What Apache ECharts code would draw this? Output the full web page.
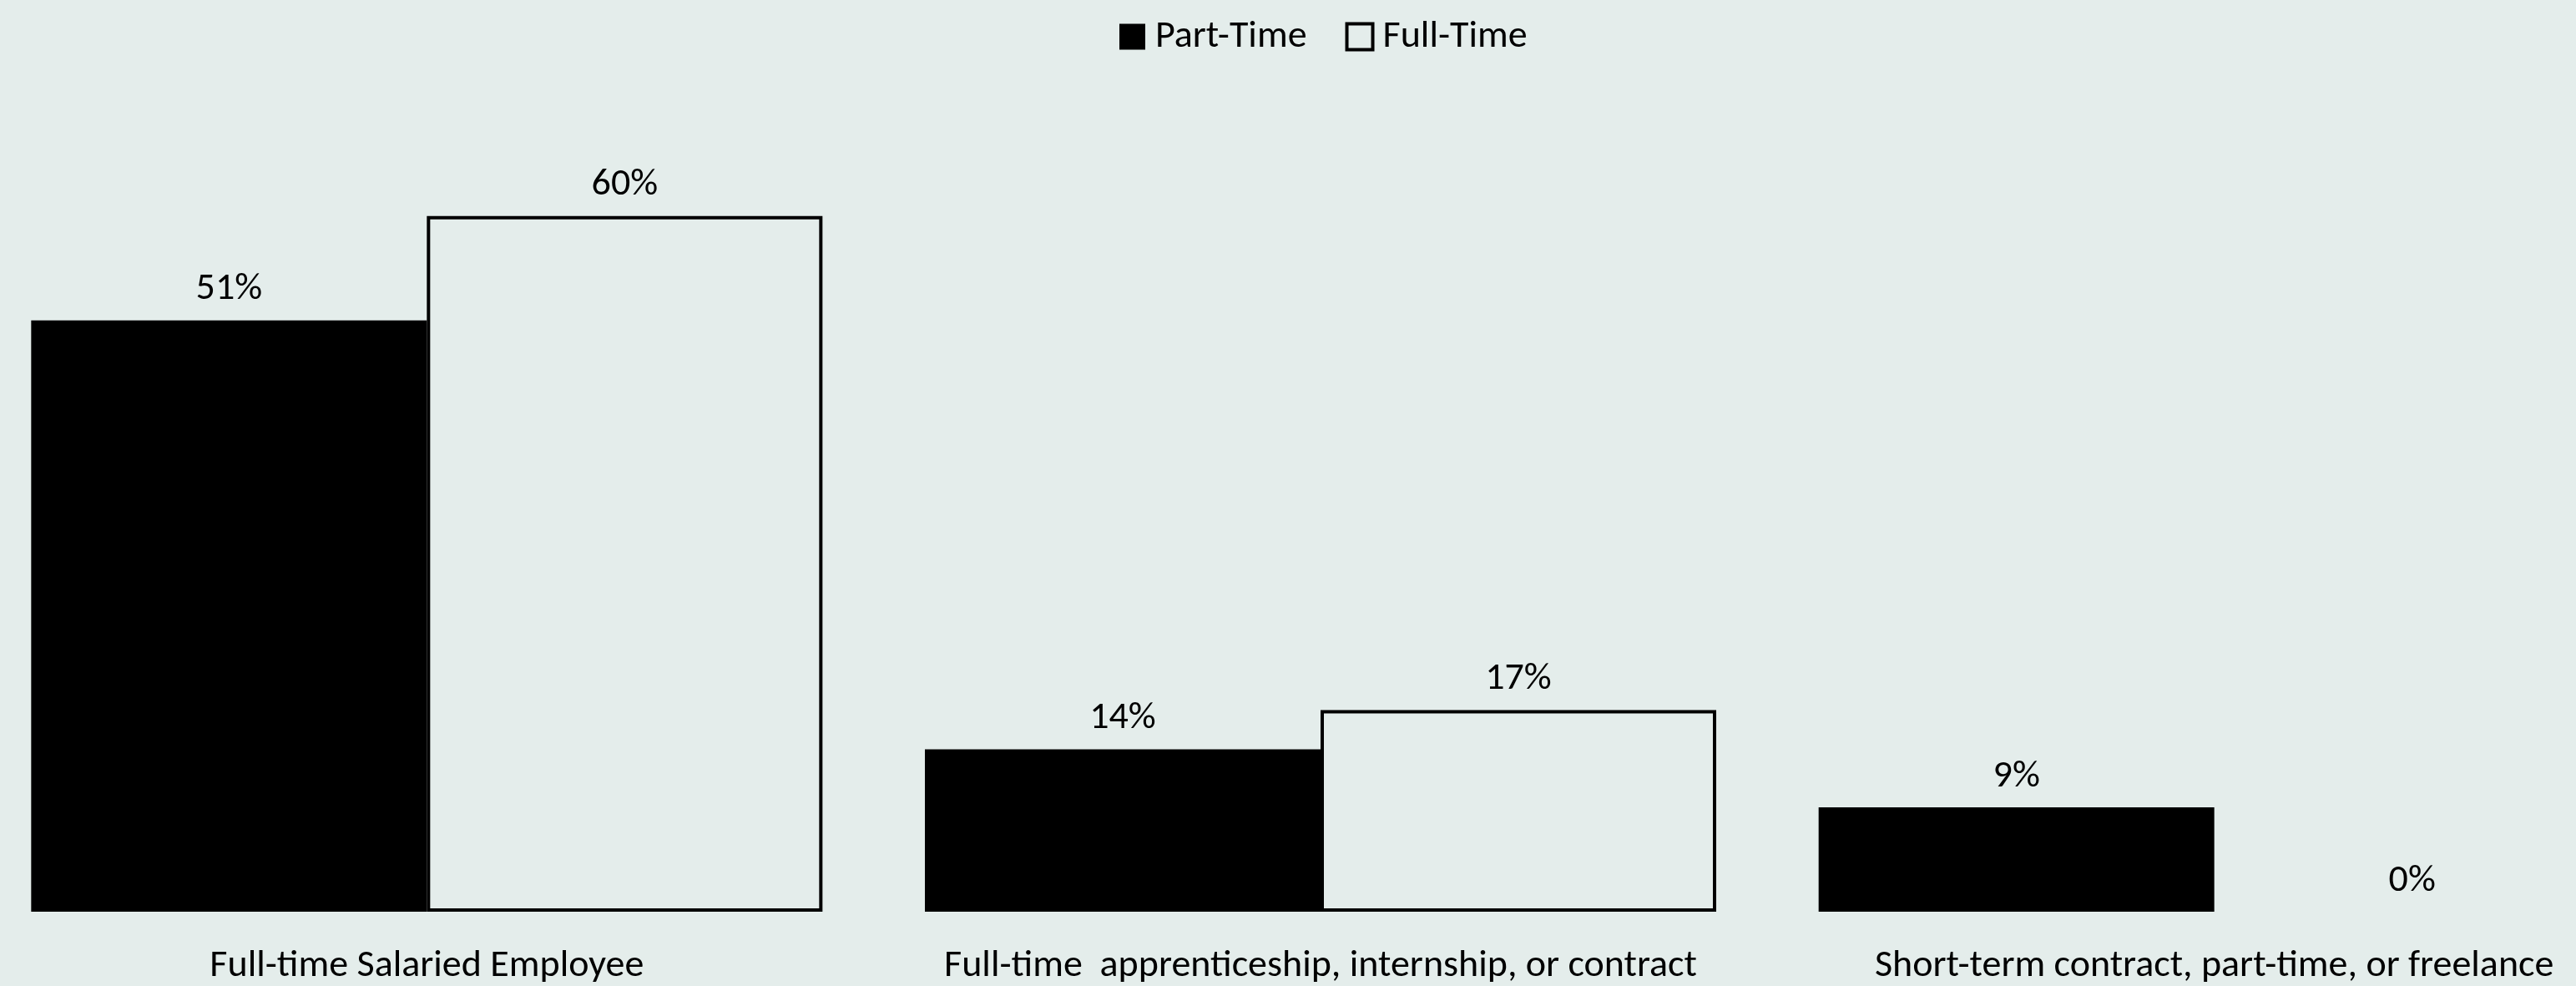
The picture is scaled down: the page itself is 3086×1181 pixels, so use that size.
<!DOCTYPE html>
<html>
<head>
<meta charset="utf-8">
<script src="https://cdn.jsdelivr.net/npm/echarts@6/dist/echarts.min.js"></script>
<style>
html,body{margin:0;padding:0;background:#e4edeb;}
#chart{width:3086px;height:1181px;}
</style>
</head>
<body>
<div id="chart"></div>
<script>
const categories = [
  "Full-time Salaried Employee",
  "Full-time  apprenticeship, internship, or contract",
  "Short-term contract, part-time, or freelance"
];
const partTime = [51, 14, 9];
const fullTime = [60, 17.4, 0];
const seriesNames = ["Part-Time", "Full-Time"];

const BG = "#e4edeb";
const FONT = "Carlito, Lato, sans-serif";
const chart = echarts.init(document.getElementById('chart'), null, {renderer: 'canvas'});

const labelCfg = {
  show: true,
  position: 'top',
  distance: 14,
  color: '#000',
  fontFamily: FONT,
  fontSize: 46,
  formatter: p => Math.round(p.value) + '%'
};

chart.setOption({
  backgroundColor: BG,
  animation: false,
  textStyle: {fontFamily: FONT},
  legend: {
    data: [
      {name: seriesNames[0], itemStyle: {color: '#000', borderWidth: 0}},
      {name: seriesNames[1], itemStyle: {color: BG, borderColor: '#000', borderWidth: 4}}
    ],
    top: 16,
    left: 1336,
    icon: 'rect',
    itemWidth: 31,
    itemHeight: 31,
    itemGap: 46,
    textStyle: {fontFamily: FONT, fontSize: 46, color: '#000', padding: [0, 0, 0, 7]}
  },
  grid: {left: -24, width: 3212, top: 120, bottom: 89, containLabel: false, outerBoundsMode: 'none'},
  xAxis: {
    type: 'category',
    data: categories,
    axisLine: {show: false},
    axisTick: {show: false},
    axisLabel: {color: '#000', fontFamily: FONT, fontSize: 46, margin: 42, interval: 0}
  },
  yAxis: {
    type: 'value',
    min: 0,
    max: 70,
    show: false,
    splitLine: {show: false}
  },
  series: [
    {
      name: seriesNames[0],
      type: 'bar',
      data: partTime,
      barWidth: 474,
      barGap: '0%',
      itemStyle: {color: '#000'},
      label: labelCfg
    },
    {
      name: seriesNames[1],
      type: 'bar',
      data: fullTime.map(v => v === 0 ? {value: v, itemStyle: {borderWidth: 0}} : v),
      barWidth: 474,
      barGap: '0%',
      itemStyle: {color: BG, borderColor: '#000', borderWidth: 4},
      label: labelCfg
    }
  ]
});
</script>
</body>
</html>
